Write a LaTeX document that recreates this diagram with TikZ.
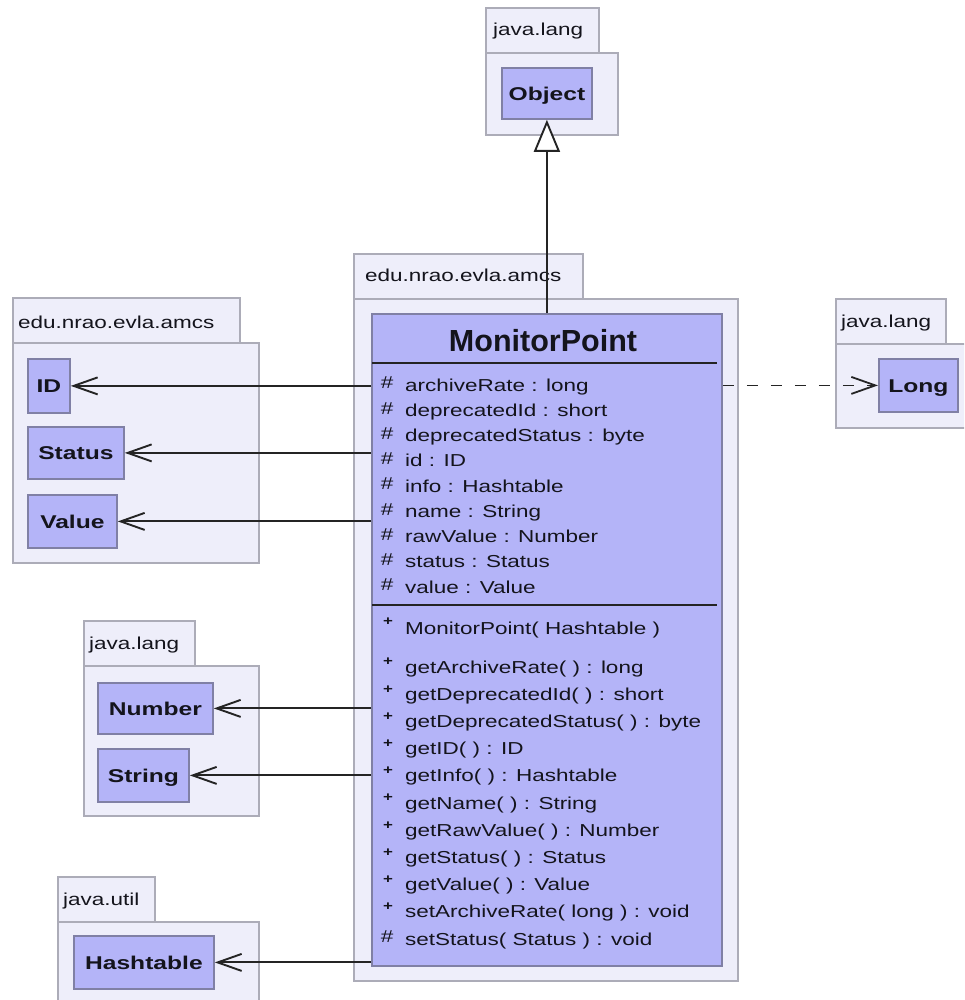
\documentclass[tikz,border=0pt]{standalone}
\usepackage{fontspec}
\setmainfont{Liberation Sans}
\newfontfamily\memfont[FakeStretch=1.3]{Liberation Sans}
\newfontfamily\clsfont[FakeStretch=1.33]{Liberation Sans}
\usetikzlibrary{arrows.meta}

\definecolor{clsfill}{RGB}{180,180,248}
\definecolor{clsdraw}{RGB}{128,128,165}
\definecolor{pkgfill}{RGB}{238,238,250}
\definecolor{pkgdraw}{RGB}{172,172,184}
\definecolor{ln}{RGB}{36,36,36}
\definecolor{txt}{RGB}{20,20,28}

\tikzset{
  pkgbox/.style={draw=pkgdraw, fill=pkgfill, line width=1.8pt, inner sep=0pt, anchor=north west},
  clsbox/.style={draw=clsdraw, fill=clsfill, line width=1.8pt, inner sep=0pt, anchor=north west,
    font=\clsfont\bfseries\fontsize{18.5}{20}\selectfont, text=txt, text height=13.3pt, text depth=0pt},
  pkglabel/.style={anchor=base west, inner sep=0pt, font=\memfont\fontsize{17.3}{20}\selectfont, text=txt},
  member/.style={anchor=base west, inner sep=0pt, font=\memfont\fontsize{17.3}{20}\selectfont, text=txt},
  hashsym/.style={anchor=center, inner sep=0pt, font=\memfont\fontsize{17.3}{18}\selectfont, text=txt},
  plussym/.style={anchor=center, inner sep=0pt, font=\memfont\bfseries\fontsize{13}{14}\selectfont, text=txt},
  sepline/.style={draw=ln, line width=1.9pt},
  assoc/.style={draw=ln, line width=1.9pt, -{Straight Barb[length=24pt,width=17pt]}},
  usage/.style={draw=ln, line width=1.8pt, dash pattern=on 11pt off 13pt, -{Straight Barb[length=24pt,width=17pt]}},
  general/.style={draw=ln, line width=1.9pt, -{Triangle[length=32pt,width=26pt,fill=white]}},
}

\begin{document}
\begin{tikzpicture}[x=1pt,y=-1pt]
\clip (0,0) rectangle (964,1000);
\fill[white] (0,0) rectangle (964,1000);

% ---- package java.lang (Object) ----
\node[pkgbox, minimum width=132pt, minimum height=82pt] (p1body) at (485,52) {};
\node[pkgbox, minimum width=113pt, minimum height=45pt] (p1tab) at (485,7) {};
\node[pkglabel] (p1name) at (493,36) {java.lang};
\node[clsbox, minimum width=90pt, minimum height=51pt] (Obj) at (501,67) {Object};

% ---- package edu.nrao.evla.amcs (MonitorPoint) ----
\node[pkgbox, minimum width=384pt, minimum height=682pt] (p2body) at (353,298) {};
\node[pkgbox, minimum width=229pt, minimum height=45pt] (p2tab) at (353,253) {};
\node[pkglabel] (p2name) at (365,281) {edu.nrao.evla.amcs};

% ---- package edu.nrao.evla.amcs (ID, Status, Value) ----
\node[pkgbox, minimum width=246pt, minimum height=220pt] (p3body) at (12,342) {};
\node[pkgbox, minimum width=227pt, minimum height=45pt] (p3tab) at (12,297) {};
\node[pkglabel] (p3name) at (18,328) {edu.nrao.evla.amcs};
\node[clsbox, minimum width=42pt, minimum height=54pt] (ID) at (27,358) {ID};
\node[clsbox, minimum width=96pt, minimum height=52pt] (Status) at (27,426) {Status};
\node[clsbox, minimum width=89pt, minimum height=53pt] (Value) at (27,494) {Value};

% ---- package java.lang (Long) ----
\node[pkgbox, minimum width=140pt, minimum height=84pt] (p4body) at (835,343) {};
\node[pkgbox, minimum width=110pt, minimum height=45pt] (p4tab) at (835,298) {};
\node[pkglabel] (p4name) at (841,327) {java.lang};
\node[clsbox, minimum width=79pt, minimum height=53pt] (Long) at (878,358) {Long};

% ---- package java.lang (Number, String) ----
\node[pkgbox, minimum width=175pt, minimum height=150pt] (p5body) at (83,665) {};
\node[pkgbox, minimum width=111pt, minimum height=45pt] (p5tab) at (83,620) {};
\node[pkglabel] (p5name) at (89,649) {java.lang};
\node[clsbox, minimum width=115pt, minimum height=51pt] (Number) at (97,682) {Number};
\node[clsbox, minimum width=91pt, minimum height=53pt] (String) at (97,748) {String};

% ---- package java.util (Hashtable) ----
\node[pkgbox, minimum width=201pt, minimum height=100pt] (p6body) at (57,921) {};
\node[pkgbox, minimum width=97pt, minimum height=45pt] (p6tab) at (57,876) {};
\node[pkglabel] (p6name) at (63,905) {java.util};
\node[clsbox, minimum width=140pt, minimum height=53pt] (Hashtable) at (73,935) {Hashtable};

% ---- class MonitorPoint ----
\node[clsbox, minimum width=350pt, minimum height=652pt] (MP) at (371,313) {};
\node[anchor=base, inner sep=0pt, text=txt, font=\bfseries\fontsize{30.5}{32}\selectfont] (MPname) at (543,351) {MonitorPoint};
\draw[sepline] (372,363) -- (717,363);
\draw[sepline] (372,605) -- (717,605);

% attributes
\foreach \t [count=\i] in {archiveRate : long, deprecatedId : short, deprecatedStatus : byte,
    id : ID, info : Hashtable, name : String, rawValue : Number, status : Status, value : Value} {
  \pgfmathsetmacro\yy{385+25.25*(\i-1)}
  \node[hashsym] (asym\i) at (387,\yy-2) {\#};
  \node[member] (attr\i) at (405,\yy+6) {\t};
}

% operations
\node[plussym] (msym0) at (388,622) {+};
\node[member] (meth0) at (405,634) {MonitorPoint( Hashtable )};
\foreach \t [count=\i] in {getArchiveRate( ) : long, getDeprecatedId( ) : short,
    getDeprecatedStatus( ) : byte, getID( ) : ID, getInfo( ) : Hashtable, getName( ) : String,
    getRawValue( ) : Number, getStatus( ) : Status, getValue( ) : Value,
    setArchiveRate( long ) : void} {
  \pgfmathsetmacro\yy{667+27.2*(\i-1)}
  \node[plussym] (msym\i) at (388,\yy-5) {+};
  \node[member] (meth\i) at (405,\yy+6) {\t};
}
\node[hashsym] (msym11) at (387,937) {\#};
\node[member] (meth11) at (405,945) {setStatus( Status ) : void};

% ---- relations ----
\draw[general] (MP.north) -- (Obj.south);
\draw[assoc] (ID.east -| MP.west) -- (ID.east);
\draw[assoc] (Status.east -| MP.west) -- (Status.east);
\draw[assoc] (Value.east -| MP.west) -- (Value.east);
\draw[assoc] (Number.east -| MP.west) -- (Number.east);
\draw[assoc] (String.east -| MP.west) -- (String.east);
\draw[assoc] (Hashtable.east -| MP.west) -- (Hashtable.east);
\draw[usage] (Long.west -| MP.east) -- (Long.west);
\end{tikzpicture}
\end{document}
